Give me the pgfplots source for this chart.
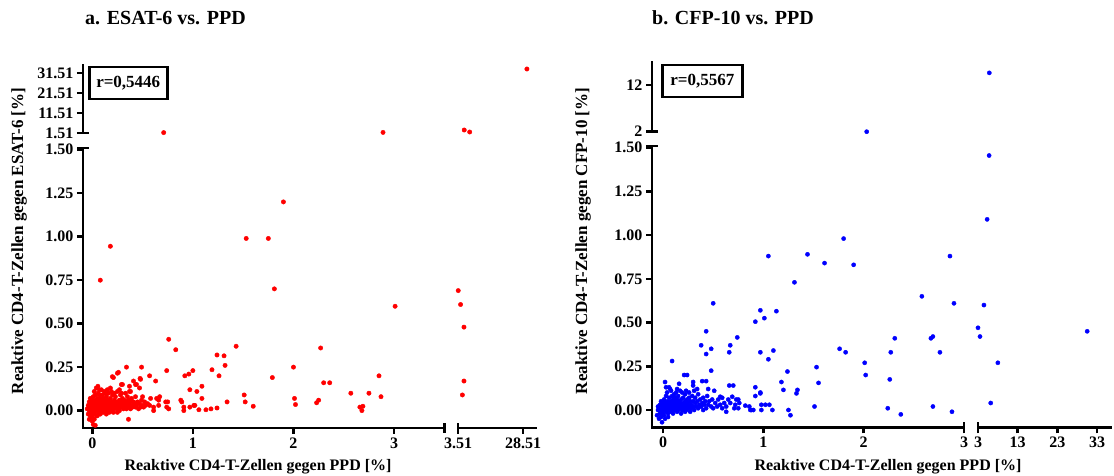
\documentclass[border=0pt]{standalone}
\usepackage{fontspec}
\setmainfont{Liberation Serif}
\usepackage{pgfplots}
\pgfplotsset{compat=1.18}
\definecolor{pr}{RGB}{255,0,0}
\definecolor{pb}{RGB}{0,0,255}
\pgfplotsset{
  gp/.style={scale only axis, clip=false, anchor=south west,
    axis line style={line width=2.5pt, line cap=rect},
    tick style={line width=2.5pt, black},
    major tick length=6pt, tick align=outside,
    tick label style={font=\fontsize{16}{16}\selectfont\bfseries, black}},
  redp/.style={only marks, mark=*, mark size=2.2pt, color=pr},
  bluep/.style={only marks, mark=*, mark size=2.1pt, color=pb},
}
\begin{document}
\begin{tikzpicture}
\useasboundingbox (0,0) rectangle (1114pt,476pt);
% ===== Panel a: lower-left =====
\begin{axis}[gp, at={(83pt,48pt)}, width=361.4pt, height=280pt,
  xmin=-0.092, xmax=3.5, ymin=-0.1, ymax=1.51,
  axis x line*=bottom, axis y line*=left,
  xtick={0,1,2,3}, xticklabels={0,1,2,3},
  ytick={0,0.25,0.5,0.75,1,1.25,1.5},
  yticklabels={0.00,0.25,0.50,0.75,1.00,1.25,1.50}]
\addplot[redp] coordinates {
(1.90,1.20) (1.53,0.99) (1.75,0.99) (0.18,0.945) (0.08,0.75) (1.81,0.70) (3.01,0.60)
(0.76,0.41) (0.83,0.35) (1.43,0.37) (2.27,0.36) (1.24,0.32) (1.31,0.315) (1.32,0.26)
(1.26,0.20) (1.19,0.235) (1.00,0.23) (0.96,0.21) (0.92,0.20) (0.74,0.23) (0.63,0.17)
(0.49,0.25) (0.34,0.25) (0.26,0.22) (0.21,0.19) (0.475,0.185) (0.48,0.18) (0.41,0.17)
(0.43,0.15) (0.29,0.15) (0.37,0.14) (0.37,0.11) (0.50,0.08) (0.97,0.12) (1.04,0.11)
(1.09,0.14) (1.09,0.07) (0.88,0.06) (0.89,0.05) (0.91,0.02) (0.91,0.00) (0.97,0.02)
(1.01,0.03) (1.02,0.03) (1.06,0.005) (1.13,0.005) (1.18,0.01) (1.24,0.015) (1.34,0.05)
(1.51,0.09) (1.52,0.05) (1.60,0.025) (1.79,0.19) (2.00,0.25) (2.01,0.07) (2.02,0.035)
(2.30,0.16) (2.36,0.16) (2.23,0.045) (2.25,0.06) (2.57,0.10) (2.75,0.10) (2.87,0.08)
(2.85,0.20) (2.66,0.02) (2.69,0.025) (2.68,0.00) (0.76,0.01) (0.64,0.07) (0.66,0.06)
(0.66,0.03) (0.73,0.05) (0.74,0.02) (0.57,0.03) (0.61,0.02) (0.61,0.00) (0.36,-0.05)
(0.01,-0.08) (0.03,-0.085) (0.20,0.195) (0.25,0.215) (0.30,0.15) (0.44,0.15) (0.47,0.13)
(0.38,0.11) (0.57,0.20) (0.056,0.14) (0.07,0.12) (0.18,0.13) (0.58,0.07) (0.67,0.08)
(0.75,0.05)
(-0.05,0.01) (-0.04,-0.02) (-0.04,0.03) (-0.03,0.00) (-0.03,0.05) (-0.02,-0.03) (-0.02,0.02)
(-0.02,0.07) (-0.01,0.01) (-0.01,-0.01) (-0.01,0.04) (0.00,0.00) (0.00,0.02) (0.00,0.06)
(0.00,-0.04) (0.01,0.01) (0.01,0.03) (0.01,-0.02) (0.01,0.08) (0.02,0.00) (0.02,0.04)
(0.02,0.05) (0.02,-0.01) (0.03,0.02) (0.03,0.06) (0.03,0.00) (0.03,0.09) (0.04,0.01)
(0.04,0.03) (0.04,-0.03) (0.04,0.05) (0.05,0.02) (0.05,0.00) (0.05,0.07) (0.05,0.04)
(0.06,0.01) (0.06,0.03) (0.06,0.10) (0.06,-0.02) (0.07,0.05) (0.07,0.02) (0.07,0.00)
(0.08,0.04) (0.08,0.01) (0.08,0.07) (0.08,0.03) (0.09,0.02) (0.09,0.06) (0.09,0.00)
(0.10,0.03) (0.10,0.05) (0.10,0.01) (0.10,0.09) (0.11,0.02) (0.11,0.04) (0.11,0.07)
(0.12,0.00) (0.12,0.03) (0.12,0.06) (0.12,0.11) (0.13,0.02) (0.13,0.05) (0.13,0.04)
(0.14,0.01) (0.14,0.03) (0.14,0.08) (0.15,0.02) (0.15,0.06) (0.15,0.00) (0.16,0.04)
(0.16,0.03) (0.16,0.10) (0.17,0.01) (0.17,0.05) (0.18,0.02) (0.18,0.07) (0.18,0.04)
(0.19,0.03) (0.19,0.00) (0.20,0.05) (0.20,0.02) (0.20,0.09) (0.21,0.04) (0.21,0.01)
(0.22,0.06) (0.22,0.03) (0.23,0.02) (0.23,0.08) (0.24,0.04) (0.24,0.01) (0.25,0.05)
(0.25,0.11) (0.26,0.03) (0.26,0.02) (0.27,0.06) (0.27,0.00) (0.28,0.04) (0.28,0.09)
(0.29,0.02) (0.29,0.05) (0.30,0.03) (0.30,0.07) (0.31,0.01) (0.31,0.04) (0.32,0.06)
(0.32,0.02) (0.33,0.03) (0.33,0.10) (0.34,0.05) (0.34,0.01) (0.35,0.04) (0.35,0.08)
(0.36,0.02) (0.36,0.06) (0.37,0.03) (0.38,0.05) (0.38,0.01) (0.39,0.07) (0.40,0.03)
(0.40,0.02) (0.41,0.05) (0.42,0.04) (0.43,0.02) (0.43,0.08) (0.44,0.03) (0.45,0.05)
(0.46,0.01) (0.47,0.04) (0.48,0.02) (0.49,0.06) (0.50,0.03) (0.51,0.02) (0.52,0.05)
(0.53,0.03) (0.55,0.04) (-0.03,-0.05) (0.00,-0.06) (0.02,-0.05) (0.05,-0.03) (0.08,-0.02)
(0.11,-0.01) (0.14,-0.02) (0.17,-0.01) (0.21,-0.01) (0.25,-0.01) (0.02,0.11) (0.04,0.13)
(0.07,0.09) (0.09,0.12) (0.13,0.10) (0.15,0.12) (0.19,0.11) (0.22,0.10) (0.27,0.12)
(0.29,0.10)
};
\draw[line width=2.5pt] (rel axis cs:1,0) ++(0pt,-5pt) -- ++(0pt,10pt);
\draw[line width=2.5pt] (rel axis cs:0,1) ++(-6pt,0pt) -- ++(12pt,0pt);
\end{axis}
% ===== Panel a: lower-right =====
\begin{axis}[gp, at={(458pt,48pt)}, width=78pt, height=280pt,
  xmin=3.51, xmax=33.5, ymin=-0.1, ymax=1.51,
  axis x line*=bottom, hide y axis,
  xtick={3.51,28.51}, xticklabels={3.51,28.51}]
\addplot[redp] coordinates {(3.6,0.69) (4.5,0.61) (5.8,0.48) (5.8,0.17) (5.2,0.09)};
\draw[line width=2.5pt] (rel axis cs:0,0) -- ++(0pt,5pt);
\end{axis}
% ===== Panel a: upper-left =====
\begin{axis}[gp, at={(83pt,343pt)}, width=361.4pt, height=68pt,
  xmin=-0.092, xmax=3.5, ymin=1.51, ymax=35.5,
  hide x axis, axis y line*=left,
  ytick={1.51,11.51,21.51,31.51}, yticklabels={1.51,11.51,21.51,31.51}]
\addplot[redp] coordinates {(0.71,1.7) (2.89,1.8)};
\draw[line width=2.5pt] (rel axis cs:0,0) -- ++(6pt,0pt);
\end{axis}
% ===== Panel a: upper-right =====
\begin{axis}[gp, at={(458pt,343pt)}, width=78pt, height=68pt,
  xmin=3.51, xmax=33.5, ymin=1.51, ymax=35.5, hide axis]
\addplot[redp] coordinates {(5.9,3.0) (8.0,2.0) (30.0,33.5)};
\end{axis}
% ===== Panel b: lower-left =====
\begin{axis}[gp, at={(652pt,48.5pt)}, width=312pt, height=281.6pt,
  xmin=-0.11, xmax=3.0, ymin=-0.1, ymax=1.51,
  axis x line*=bottom, axis y line*=left,
  xtick={0,1,2,3}, xticklabels={0,1,2,3},
  ytick={0,0.25,0.5,0.75,1,1.25,1.5},
  yticklabels={0.00,0.25,0.50,0.75,1.00,1.25,1.50}]
\addplot[bluep] coordinates {
(2.86,0.88) (2.90,0.61) (2.76,0.33) (2.69,0.42) (2.67,0.41) (2.69,0.02) (2.88,-0.01)
(1.80,0.98) (1.44,0.89) (1.05,0.88) (1.61,0.84) (1.90,0.83) (1.31,0.73) (2.58,0.65)
(0.50,0.61) (0.97,0.57) (0.92,0.505) (1.01,0.525) (1.13,0.565) (0.43,0.45) (0.74,0.415)
(0.38,0.37) (0.48,0.35) (0.43,0.32) (0.67,0.37) (0.66,0.33) (0.97,0.33) (1.10,0.34)
(1.05,0.29) (1.76,0.35) (1.82,0.33) (2.31,0.41) (2.27,0.33) (2.01,0.27) (2.02,0.20)
(1.53,0.245) (1.55,0.155) (1.24,0.22) (1.18,0.16) (1.20,0.115) (1.34,0.115) (1.33,0.095)
(0.48,0.225) (0.09,0.28) (0.92,0.13) (0.97,0.10) (0.92,0.08) (0.97,0.095) (2.26,0.175)
(1.51,0.02) (1.25,0.00) (1.27,-0.03) (2.24,0.01) (2.37,-0.025) (0.82,0.025) (0.87,0.00)
(0.88,0.00) (0.98,0.03) (1.02,0.03) (1.06,0.03) (0.98,0.00) (1.09,0.00) (0.66,0.14)
(0.73,0.06) (0.72,0.03) (0.71,0.01) (0.63,-0.01) (-0.01,-0.07)
(-0.06,-0.03) (-0.05,0.00) (-0.05,0.02) (-0.04,-0.05) (-0.04,0.01) (-0.03,0.03) (-0.03,-0.02)
(-0.02,0.00) (-0.02,0.05) (-0.02,-0.04) (-0.01,0.02) (-0.01,-0.01) (0.00,0.01) (0.00,0.04)
(0.00,-0.02) (0.01,0.00) (0.01,0.03) (0.01,0.06) (0.01,-0.03) (0.02,0.01) (0.02,0.02)
(0.02,0.05) (0.03,0.00) (0.03,0.03) (0.03,0.08) (0.03,-0.01) (0.04,0.02) (0.04,0.04)
(0.04,0.10) (0.05,0.01) (0.05,0.05) (0.05,-0.02) (0.06,0.03) (0.06,0.00) (0.06,0.07)
(0.07,0.02) (0.07,0.04) (0.07,0.12) (0.08,0.01) (0.08,0.05) (0.08,-0.01) (0.09,0.03)
(0.09,0.08) (0.09,0.00) (0.10,0.02) (0.10,0.06) (0.10,0.04) (0.11,0.01) (0.11,0.09)
(0.11,0.03) (0.12,0.05) (0.12,0.00) (0.12,0.07) (0.13,0.02) (0.13,0.04) (0.13,0.10)
(0.14,0.01) (0.14,0.06) (0.15,0.03) (0.15,0.00) (0.15,0.08) (0.16,0.02) (0.16,0.05)
(0.17,0.01) (0.17,0.04) (0.17,0.11) (0.18,0.03) (0.18,0.06) (0.19,0.00) (0.19,0.02)
(0.20,0.04) (0.20,0.07) (0.21,0.01) (0.21,0.03) (0.22,0.05) (0.22,0.09) (0.23,0.02)
(0.23,0.00) (0.24,0.04) (0.24,0.06) (0.25,0.01) (0.25,0.03) (0.26,0.07) (0.26,0.02)
(0.27,0.05) (0.28,0.01) (0.28,0.03) (0.29,0.08) (0.30,0.02) (0.30,0.05) (0.31,0.00)
(0.32,0.04) (0.32,0.07) (0.33,0.02) (0.34,0.05) (0.35,0.01) (0.35,0.09) (0.36,0.03)
(0.37,0.06) (0.38,0.02) (0.39,0.04) (0.40,0.00) (0.40,0.07) (0.41,0.03) (0.42,0.05)
(0.43,0.01) (0.44,0.08) (0.45,0.03) (0.46,0.05) (0.48,0.02) (0.49,0.06) (0.50,0.01)
(0.52,0.04) (0.54,0.02) (0.55,0.06) (0.57,0.03) (0.59,0.01) (0.61,0.04) (0.63,0.02)
(0.06,0.13) (0.08,0.11) (0.14,0.12) (0.19,0.10) (0.23,0.11) (0.26,0.10) (0.31,0.11)
(0.34,0.12) (0.02,0.16) (0.03,0.13) (0.16,0.15) (0.21,0.20) (0.24,0.20) (0.30,0.16)
(0.30,0.14) (0.39,0.165) (0.43,0.165) (0.45,0.12) (0.51,0.11) (0.57,0.076) (0.59,0.07)
(0.69,0.076) (0.70,0.14) (0.65,0.06) (0.67,0.04) (0.75,0.06) (0.76,0.04) (0.75,0.01)
(0.86,0.02) (0.90,0.00) (0.02,-0.05) (0.05,-0.04) (0.10,-0.02) (0.14,-0.01) (0.18,-0.02)
(0.22,-0.01) (0.27,-0.01)
};
\draw[line width=2.5pt] (rel axis cs:1,0) ++(0pt,-5pt) -- ++(0pt,10pt);
\draw[line width=2.5pt] (rel axis cs:0,1) ++(-6pt,0pt) -- ++(12pt,0pt);
\end{axis}
% ===== Panel b: lower-right =====
\begin{axis}[gp, at={(978pt,48.5pt)}, width=133pt, height=281.6pt,
  xmin=3, xmax=36.5, ymin=-0.1, ymax=1.51,
  axis x line*=bottom, hide y axis,
  xtick={3,13,23,33}, xticklabels={3,13,23,33}]
\addplot[bluep] coordinates {(5.8,1.455) (5.3,1.09) (4.5,0.60) (3.0,0.47) (3.5,0.42)
 (30.5,0.45) (8.0,0.27) (6.2,0.04)};
\draw[line width=2.5pt] (rel axis cs:0,0) -- ++(0pt,5pt);
\end{axis}
% ===== Panel b: upper-left =====
\begin{axis}[gp, at={(652pt,344.3pt)}, width=312pt, height=69.1pt,
  xmin=-0.11, xmax=3.0, ymin=2, ymax=16.8,
  hide x axis, axis y line*=left,
  ytick={2,12}, yticklabels={2,12}]
\addplot[bluep] coordinates {(2.03,2.0)};
\draw[line width=2.5pt] (rel axis cs:0,0) -- ++(6pt,0pt);
\end{axis}
% ===== Panel b: upper-right =====
\begin{axis}[gp, at={(978pt,344.3pt)}, width=133pt, height=69.1pt,
  xmin=3, xmax=36.5, ymin=2, ymax=16.8, hide axis]
\addplot[bluep] coordinates {(5.85,14.6)};
\end{axis}
% ===== texts =====
\node[anchor=west, inner sep=0pt, font=\fontsize{20}{20}\selectfont\bfseries] at (85pt,458pt) {a. ESAT-6 vs. PPD};
\node[anchor=west, inner sep=0pt, font=\fontsize{20}{20}\selectfont\bfseries] at (652pt,458pt) {b. CFP-10 vs. PPD};
\node[font=\fontsize{16}{16}\selectfont\bfseries] at (258pt,9pt) {Reaktive CD4-T-Zellen gegen PPD [\%]};
\node[font=\fontsize{16}{16}\selectfont\bfseries] at (888pt,9pt) {Reaktive CD4-T-Zellen gegen PPD [\%]};
\node[rotate=90, font=\fontsize{17}{17}\selectfont\bfseries] at (19pt,235pt) {Reaktive CD4-T-Zellen gegen ESAT-6 [\%]};
\node[rotate=90, font=\fontsize{17}{17}\selectfont\bfseries] at (583pt,235pt) {Reaktive CD4-T-Zellen gegen CFP-10 [\%]};
\node[draw, line width=2.5pt, minimum width=78pt, minimum height=32pt, anchor=north west, inner sep=2pt,
  font=\fontsize{17}{17}\selectfont\bfseries] at (88pt,410pt) {r=0,5446};
\node[draw, line width=2.5pt, minimum width=80pt, minimum height=32pt, anchor=north west, inner sep=2pt,
  font=\fontsize{17}{17}\selectfont\bfseries] at (661pt,412pt) {r=0,5567};
\end{tikzpicture}
\end{document}
